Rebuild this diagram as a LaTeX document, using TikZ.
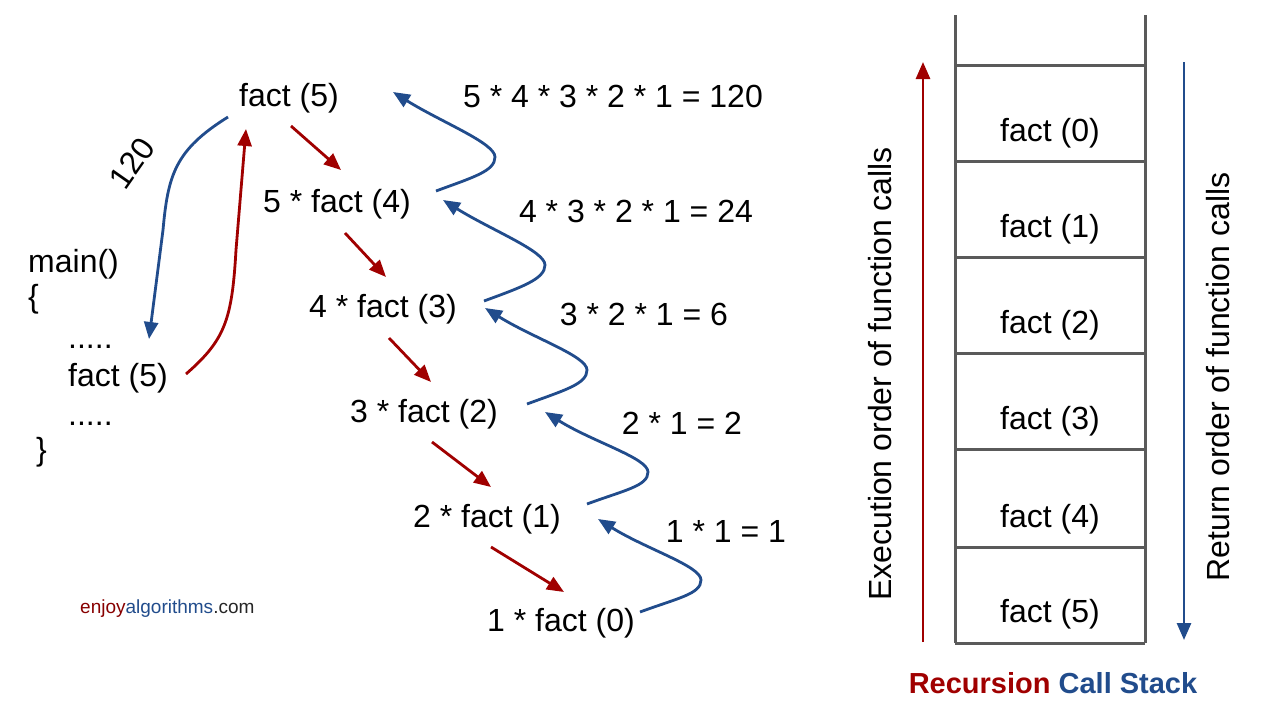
\documentclass[tikz,border=0pt]{standalone}
\usepackage{fontspec}
\setmainfont{Liberation Sans}
\usetikzlibrary{arrows.meta}
\definecolor{redc}{RGB}{160,0,0}
\definecolor{bluec}{RGB}{33,76,140}
\definecolor{grayc}{RGB}{90,90,90}
\begin{document}
\begin{tikzpicture}[x=1pt,y=-1pt,
  txt/.style={inner sep=0pt,font=\fontsize{32}{37}\selectfont},
  stk/.style={inner sep=0pt,font=\fontsize{32}{37}\selectfont},
  redarr/.style={draw=redc,line width=2.8pt,-{Triangle[length=17pt,width=14pt]}},
  bluearr/.style={draw=bluec,line width=2.8pt,-{Triangle[length=17pt,width=14pt]}},
  stkline/.style={draw=grayc,line width=3pt}]
\useasboundingbox[fill=white] (0,0) rectangle (1280,720);

% recursion tree nodes
\node[txt] (f5) at (289,98) {fact (5)};
\node[txt] (f4) at (337,204) {5 * fact (4)};
\node[txt] (f3) at (383,309) {4 * fact (3)};
\node[txt] (f2) at (424,414) {3 * fact (2)};
\node[txt] (f1) at (487,519) {2 * fact (1)};
\node[txt] (f0) at (561,623) {1 * fact (0)};

% return labels
\node[txt] (l5) at (613,96) {5 * 4 * 3 * 2 * 1 = 120};
\node[txt] (l4) at (636,211) {4 * 3 * 2 * 1 = 24};
\node[txt] (l3) at (644,314) {3 * 2 * 1 = 6};
\node[txt] (l2) at (682,423) {2 * 1 = 2};
\node[txt] (l1) at (726,531) {1 * 1 = 1};

% main code
\node[txt,anchor=base west] (mn) at (28,272) {main()};
\node[txt,anchor=base west] (ob) at (28,307) {\{};
\node[txt,anchor=base west] (d1) at (68,348) {.....};
\node[txt,anchor=base west] (mf) at (68,386) {fact (5)};
\node[txt,anchor=base west] (d2) at (68,425) {.....};
\node[txt,anchor=base west] (cb) at (36,460) {\}};
\node[txt,rotate=55] (v120) at (132,163) {120};

% logo
\node[inner sep=0pt,anchor=west,font=\fontsize{19}{23}\selectfont] (logo) at (80,609)
  {\textcolor{redc!85!black}{enjoy}\textcolor{bluec}{algorithms}\textcolor{black!85}{.com}};

% red call arrows
\coordinate (r1s) at (291,126); \coordinate (r1e) at (341,170);
\coordinate (r2s) at (345,233); \coordinate (r2e) at (386,277);
\coordinate (r3s) at (389,338); \coordinate (r3e) at (431,382);
\coordinate (r4s) at (432,442); \coordinate (r4e) at (491,487);
\coordinate (r5s) at (491,547); \coordinate (r5e) at (564,592);
\draw[redarr] (r1s) -- (r1e);
\draw[redarr] (r2s) -- (r2e);
\draw[redarr] (r3s) -- (r3e);
\draw[redarr] (r4s) -- (r4e);
\draw[redarr] (r5s) -- (r5e);

% blue return zigzags
\coordinate (b1s) at (436,191); \coordinate (b1m) at (495,157); \coordinate (b1t) at (393,92);
\coordinate (b2s) at (484,301); \coordinate (b2m) at (545,265); \coordinate (b2t) at (443,200);
\coordinate (b3s) at (527,404); \coordinate (b3m) at (587,370); \coordinate (b3t) at (485,308);
\coordinate (b4s) at (587,504); \coordinate (b4m) at (648,472); \coordinate (b4t) at (545,412);
\coordinate (b5s) at (640,612); \coordinate (b5m) at (701,580); \coordinate (b5t) at (598,519);
\foreach \i in {1,...,5}{
  \draw[bluearr] (b\i s) .. controls +(38,-14) and +(0,14) .. (b\i m)
     .. controls +(0,-14) and +(48,30) .. (b\i t);
}

% main <-> fact(5)
\coordinate (m1s) at (228,117); \coordinate (m1t) at (149,339);
\coordinate (m2s) at (186,374); \coordinate (m2t) at (246,129);
\draw[bluearr] (m1s) .. controls (175,150) and (168,175) .. (163,230) -- (m1t);
\draw[redarr] (m2s) .. controls (225,340) and (232,320) .. (236,250) -- (m2t);

% call stack
\draw[stkline] (955,15) -- (955,643);
\draw[stkline] (1145,15) -- (1145,643);
\foreach \y in {65,161,257,353,449,547,643}{
  \draw[stkline] (955,\y) -- (1145,\y);
}
\node[stk] (s0) at (1050,133) {fact (0)};
\node[stk] (s1) at (1050,229) {fact (1)};
\node[stk] (s2) at (1050,325) {fact (2)};
\node[stk] (s3) at (1050,421) {fact (3)};
\node[stk] (s4) at (1050,519) {fact (4)};
\node[stk] (s5) at (1050,614) {fact (5)};

\coordinate (ea1) at (923,642); \coordinate (ea2) at (923,62);
\coordinate (ra1) at (1184,62); \coordinate (ra2) at (1184,640);
\draw[redarr] (ea1) -- (ea2);
\draw[bluearr] (ra1) -- (ra2);
\node[stk,rotate=90] (exl) at (880,374) {Execution order of function calls};
\node[stk,rotate=90] (rtl) at (1218,377) {Return order of function calls};

\node[inner sep=0pt,font=\fontsize{29}{34}\selectfont\bfseries] (title) at (1053,683)
  {\textcolor{redc}{Recursion} \textcolor{bluec}{Call Stack}};
\end{tikzpicture}
\end{document}
